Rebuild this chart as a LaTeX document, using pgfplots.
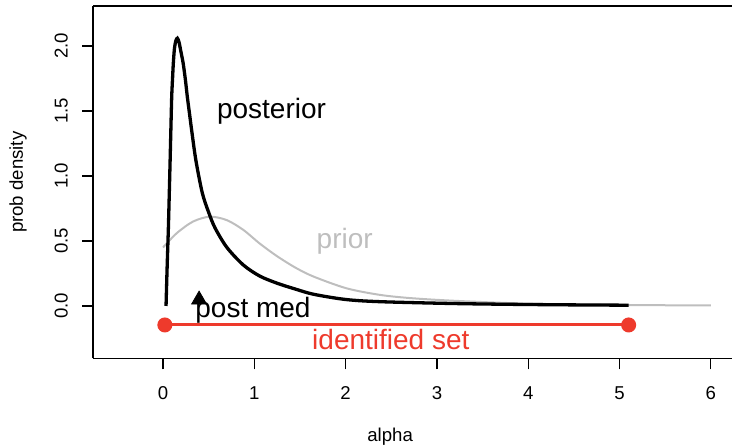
\documentclass[border=0pt]{standalone}
\usepackage{fontspec}
\setmainfont{Liberation Sans}
\usepackage{pgfplots}
\pgfplotsset{compat=1.18}
\definecolor{idred}{RGB}{238,58,44}
\definecolor{priorgray}{RGB}{190,190,190}

\begin{document}
\begin{tikzpicture}
  \begin{axis}[
      scale only axis,
      width=319.5pt, height=176.25pt,
      xmin=-0.767, xmax=6.232, ymin=-0.404, ymax=2.308,
      axis x line*=box, axis y line*=left,
      axis line style={line width=0.6pt, -},
      xtick={0,1,2,3,4,5,6}, ytick={0,0.5,1,1.5,2},
      xtick pos=left, ytick pos=left,
      tick align=outside, major tick length=5.5pt,
      tick style={line width=0.6pt, black},
      /pgf/number format/assume math mode=true,
      tick label style={font=\fontsize{9.3}{11}\selectfont},
      xticklabel style={anchor=north, inner sep=0pt},
      yticklabel style={rotate=90, anchor=south, inner sep=0pt,
        /pgf/number format/.cd, fixed, fixed zerofill, precision=1},
      xticklabel shift=8.25pt, yticklabel shift=6.85pt,
      xlabel={alpha}, ylabel={prob density},
      label style={font=\fontsize{9.3}{11}\selectfont},
      xlabel style={at={(axis description cs:0.465,-0.2227)}, anchor=center},
      ylabel style={at={(axis description cs:-0.1174,0.5)}, anchor=center},
    ]
    % prior
    \addplot[priorgray, line width=1pt, smooth] coordinates {
      (0,0.45) (0.15,0.56) (0.33,0.65) (0.515,0.687) (0.70,0.66)
      (0.88,0.585) (1.06,0.48) (1.245,0.385) (1.45,0.295) (1.65,0.226)
      (2.01,0.136) (2.38,0.085) (2.74,0.059) (3.25,0.038) (4,0.018)
      (5,0.008) (6,0.004)};
    % posterior
    \addplot[black, line width=1.65pt, smooth] coordinates {
      (0.033,0.0) (0.045,0.3) (0.058,0.585) (0.068,0.85) (0.077,1.10)
      (0.086,1.36) (0.095,1.61) (0.105,1.76) (0.113,1.87) (0.125,1.98)
      (0.14,2.04) (0.157,2.06) (0.175,2.03) (0.195,1.96) (0.22,1.87)
      (0.245,1.74) (0.266,1.61) (0.29,1.48) (0.314,1.35) (0.36,1.12)
      (0.43,0.87) (0.5,0.72) (0.57,0.60) (0.7,0.45) (0.88,0.315)
      (1.06,0.23) (1.25,0.175) (1.45,0.13) (1.65,0.09) (2.0,0.05)
      (2.38,0.033) (3.25,0.018) (4.2,0.01) (5.1,0.006)};
    % identified set
    \addplot[idred, line width=1.5pt, mark=*, mark size=3pt,
      mark options={solid, fill=idred, draw=idred}] coordinates {
      (0.02,-0.146) (5.1,-0.146)};
    % posterior median
    \addplot[only marks, black, mark=triangle*, mark size=4.3pt] coordinates {
      (0.395,0.048)};
    \node[anchor=base, font=\fontsize{14}{16}\selectfont] at (axis cs:1.188,1.444) {posterior};
    \node[anchor=base, text=priorgray, font=\fontsize{14}{16}\selectfont] at (axis cs:1.99,0.444) {prior};
    \node[anchor=base, font=\fontsize{14}{16}\selectfont] at (axis cs:0.985,-0.092) {post med};
    \node[anchor=base, text=idred, font=\fontsize{14}{16}\selectfont] at (axis cs:2.495,-0.338) {identified set};
  \end{axis}
  \pgfresetboundingbox
  \path[use as bounding box] ([xshift=-46.5pt, yshift=-44.25pt]current axis.south west)
    rectangle ([yshift=3pt]current axis.north east);
\end{tikzpicture}
\end{document}
